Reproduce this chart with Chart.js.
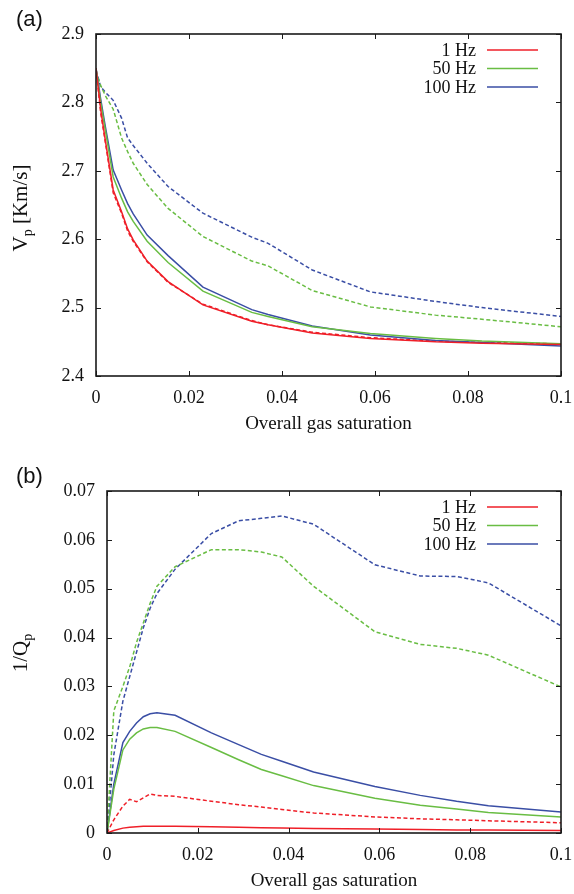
<!DOCTYPE html>
<html>
<head>
<meta charset="utf-8">
<script src="https://cdn.jsdelivr.net/npm/chart.js@4.4.1/dist/chart.umd.min.js"></script>
<style>
  body { margin: 0; background: #fff; }
  canvas { display: block; }
</style>
</head>
<body>
<canvas id="vpChart" width="574" height="447"></canvas>
<canvas id="qChart" width="574" height="447"></canvas>
<script>
// (a) P-wave velocity vs overall gas saturation
const satVp = [0, 0.001, 0.002, 0.0037, 0.0055, 0.0068, 0.008, 0.011, 0.0155, 0.023, 0.0335, 0.037, 0.0465, 0.059, 0.073, 0.083, 0.1];
const vp1HzSolid = [2.85, 2.79, 2.745, 2.672, 2.64, 2.615, 2.599, 2.568, 2.538, 2.504, 2.480, 2.475, 2.463, 2.455, 2.450, 2.448, 2.446];
const vp50HzSolid = [2.85, 2.80, 2.76, 2.691, 2.66, 2.64, 2.626, 2.597, 2.566, 2.524, 2.493, 2.487, 2.472, 2.462, 2.455, 2.451, 2.447];
const vp100HzSolid = [2.85, 2.805, 2.765, 2.701, 2.672, 2.652, 2.637, 2.606, 2.576, 2.530, 2.497, 2.490, 2.473, 2.460, 2.452, 2.449, 2.444];
const vp1HzDashed = [2.85, 2.785, 2.742, 2.668, 2.638, 2.612, 2.597, 2.567, 2.537, 2.505, 2.481, 2.475, 2.464, 2.456, 2.451, 2.449, 2.447];
const vp50HzDashed = [2.845, 2.825, 2.81, 2.79, 2.748, 2.728, 2.711, 2.68, 2.645, 2.604, 2.568, 2.561, 2.525, 2.501, 2.489, 2.483, 2.472];
const vp100HzDashed = [2.847, 2.823, 2.815, 2.803, 2.777, 2.748, 2.737, 2.711, 2.677, 2.638, 2.603, 2.594, 2.555, 2.523, 2.509, 2.500, 2.487];

// (b) attenuation 1/Qp vs overall gas saturation
const satQ = [0, 0.0015, 0.0035, 0.005, 0.0065, 0.008, 0.0095, 0.011, 0.015, 0.023, 0.029, 0.034, 0.0385, 0.0455, 0.059, 0.069, 0.077, 0.084, 0.1];
const q1HzSolid = [0, 0.0005, 0.001, 0.0012, 0.0013, 0.0014, 0.0014, 0.0014, 0.0014, 0.0013, 0.0012, 0.0011, 0.001, 0.0009, 0.0008, 0.0007, 0.0006, 0.0006, 0.0005];
const q50HzSolid = [0, 0.009, 0.017, 0.0192, 0.0205, 0.0213, 0.0216, 0.0216, 0.0208, 0.0175, 0.015, 0.013, 0.0117, 0.0097, 0.0071, 0.0057, 0.0049, 0.0042, 0.0033];
const q100HzSolid = [0, 0.010, 0.0185, 0.0208, 0.0225, 0.0238, 0.0244, 0.0246, 0.0241, 0.0205, 0.0181, 0.0161, 0.0147, 0.0125, 0.0095, 0.0077, 0.0065, 0.0056, 0.0043];
const q1HzDashed = [0, 0.0027, 0.0055, 0.0069, 0.0064, 0.0072, 0.0080, 0.0077, 0.0075, 0.0065, 0.0058, 0.0053, 0.0048, 0.0041, 0.0033, 0.0029, 0.0027, 0.0025, 0.0021];
const q50HzDashed = [0, 0.025, 0.030, 0.034, 0.039, 0.043, 0.047, 0.0505, 0.0545, 0.058, 0.058, 0.0575, 0.0565, 0.0505, 0.0412, 0.0386, 0.0378, 0.0364, 0.0299];
const q100HzDashed = [0, 0.016, 0.027, 0.032, 0.037, 0.042, 0.046, 0.049, 0.054, 0.0613, 0.0639, 0.0644, 0.0649, 0.0632, 0.0549, 0.0526, 0.0525, 0.0512, 0.0424];

const satTicks = [0, 0.02, 0.04, 0.06, 0.08, 0.1];
const freqLabels = ['1 Hz', '50 Hz', '100 Hz'];
const RED = '#ef1f28';
const GREEN = '#69bd43';
const BLUE = '#3a4ea5';

function series(label, xs, ys, color, dashed) {
    return {
        label: label,
        data: xs.map((v, i) => ({ x: v, y: ys[i] })),
        borderColor: color,
        backgroundColor: color,
        borderWidth: 1.5,
        borderDash: dashed ? [4, 2.5] : [],
        pointRadius: 0,
        tension: 0,
        inLegend: !dashed
    };
}

function fmt(v) {
    return String(Number(v.toFixed(4)));
}

// box round the plot with inward ticks on all four sides
const framePlugin = {
    id: 'frame',
    afterDatasetsDraw(chart) {
        const { ctx, chartArea: a, scales } = chart;
        const x = scales.x, y = scales.y;
        ctx.save();
        ctx.strokeStyle = '#1a1a1a';
        ctx.lineWidth = 1;
        ctx.beginPath();
        x.ticks.forEach(t => {
            const px = Math.round(x.getPixelForValue(t.value)) + 0.5;
            ctx.moveTo(px, a.bottom); ctx.lineTo(px, a.bottom - 5);
            ctx.moveTo(px, a.top); ctx.lineTo(px, a.top + 5);
        });
        y.ticks.forEach(t => {
            const py = Math.round(y.getPixelForValue(t.value)) + 0.5;
            ctx.moveTo(a.left, py); ctx.lineTo(a.left + 5, py);
            ctx.moveTo(a.right, py); ctx.lineTo(a.right - 5, py);
        });
        ctx.stroke();
        ctx.lineWidth = 1.6;
        ctx.strokeRect(a.left, a.top, a.right - a.left, a.bottom - a.top);
        ctx.restore();
    }
};

// legend: label text then a short line sample, top right inside the plot
const keyPlugin = {
    id: 'key',
    afterDraw(chart) {
        const { ctx, chartArea: a } = chart;
        const items = chart.data.datasets.filter(d => d.inLegend);
        ctx.save();
        ctx.font = '18px "Liberation Serif"';
        ctx.textAlign = 'right';
        ctx.textBaseline = 'middle';
        items.forEach((d, i) => {
            const yy = a.top + 16 + i * 18.5;
            ctx.fillStyle = '#111';
            ctx.fillText(d.label, a.right - 85, yy + 1);
            ctx.strokeStyle = d.borderColor;
            ctx.lineWidth = 1.6;
            ctx.beginPath();
            ctx.moveTo(a.right - 74, yy);
            ctx.lineTo(a.right - 23, yy);
            ctx.stroke();
        });
        ctx.restore();
    }
};

// rotated y title with a subscript, plus panel letter
const labelPlugin = {
    id: 'labels',
    afterDraw(chart, args, opts) {
        const ctx = chart.ctx;
        ctx.save();
        ctx.fillStyle = '#111';
        ctx.font = '22px "Liberation Sans"';
        ctx.textBaseline = 'middle';
        ctx.textAlign = 'left';
        ctx.fillText(opts.panel, 16, opts.panelY);

        ctx.translate(opts.titleX, opts.titleY);
        ctx.rotate(-Math.PI / 2);
        const big = '21px "Liberation Serif"', small = '14px "Liberation Serif"';
        ctx.font = big;
        const w1 = ctx.measureText(opts.main).width;
        const w3 = ctx.measureText(opts.rest).width;
        ctx.font = small;
        const w2 = ctx.measureText(opts.sub).width;
        let cx = -(w1 + w2 + w3) / 2;
        ctx.font = big;
        ctx.fillText(opts.main, cx, 0);
        cx += w1;
        ctx.font = small;
        ctx.fillText(opts.sub, cx, 7);
        cx += w2;
        ctx.font = big;
        ctx.fillText(opts.rest, cx, 0);
        ctx.restore();
    }
};

function makeChart(id, xs, sets, yMin, yMax, yStep, leftW, topPad, xH, tickSize, titlePadBottom, labels) {
    const ds = [];
    sets.forEach((s, i) => {
        const color = [RED, GREEN, BLUE][i];
        ds.push(series(freqLabels[i], xs, s[0], color, false));
    });
    sets.forEach((s, i) => {
        const color = [RED, GREEN, BLUE][i];
        ds.push(series(freqLabels[i] + ' (dashed)', xs, s[1], color, true));
    });
    return new Chart(document.getElementById(id), {
        type: 'line',
        data: { datasets: ds },
        plugins: [framePlugin, keyPlugin, labelPlugin],
        options: {
            responsive: false,
            animation: false,
            layout: { padding: { left: 0, right: 13, top: topPad, bottom: 0 } },
            plugins: {
                legend: { display: false },
                tooltip: { enabled: false },
                labels: labels
            },
            scales: {
                x: {
                    type: 'linear',
                    min: 0, max: 0.1,
                    afterBuildTicks: sc => { sc.ticks = satTicks.map(v => ({ value: v })); },
                    afterFit: sc => { sc.height = xH; sc.paddingLeft = 0; sc.paddingRight = 0; },
                    grid: { display: false, drawTicks: false },
                    border: { display: false },
                    ticks: {
                        padding: 11,
                        color: '#111',
                        font: { family: 'Liberation Serif', size: tickSize },
                        callback: v => fmt(v),
                        maxRotation: 0
                    },
                    title: {
                        display: true,
                        text: 'Overall gas saturation',
                        color: '#111',
                        font: { family: 'Liberation Serif', size: 19 },
                        padding: { top: 0, bottom: titlePadBottom }
                    }
                },
                y: {
                    min: yMin, max: yMax,
                    afterBuildTicks: sc => {
                        const t = [];
                        for (let v = yMin; v <= yMax + yStep / 2; v += yStep) t.push({ value: Number(v.toFixed(4)) });
                        sc.ticks = t;
                    },
                    afterFit: sc => { sc.width = leftW; sc.paddingTop = 0; sc.paddingBottom = 0; },
                    grid: { display: false, drawTicks: false },
                    border: { display: false },
                    ticks: {
                        padding: 12,
                        color: '#111',
                        font: { family: 'Liberation Serif', size: tickSize },
                        callback: v => fmt(v)
                    }
                }
            }
        }
    });
}

makeChart('vpChart', satVp,
    [[vp1HzSolid, vp1HzDashed], [vp50HzSolid, vp50HzDashed], [vp100HzSolid, vp100HzDashed]],
    2.4, 2.9, 0.1, 96, 34, 71, 18, 12,
    { panel: '(a)', panelY: 20, titleX: 21, titleY: 208, main: 'V', sub: 'p', rest: ' [Km/s]' });

makeChart('qChart', satQ,
    [[q1HzSolid, q1HzDashed], [q50HzSolid, q50HzDashed], [q100HzSolid, q100HzDashed]],
    0, 0.07, 0.01, 107, 44, 61, 18, 2,
    { panel: '(b)', panelY: 30, titleX: 21, titleY: 206, main: '1/Q', sub: 'p', rest: '' });
</script>
</body>
</html>
